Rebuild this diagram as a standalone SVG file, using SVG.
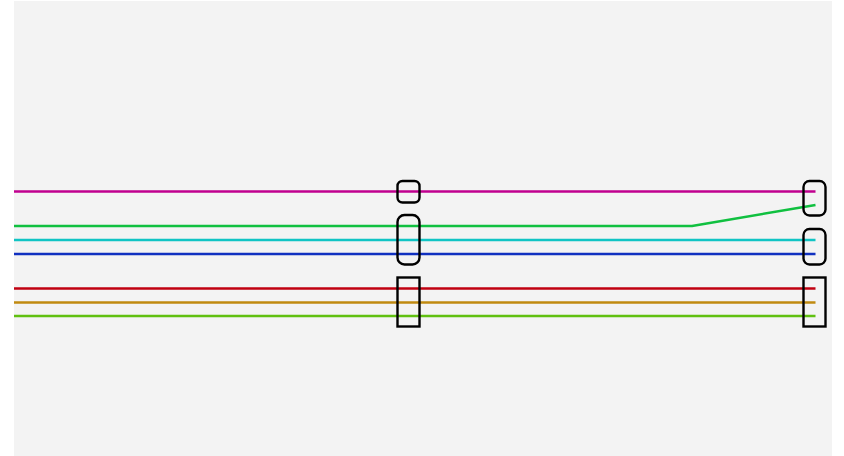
<svg xmlns="http://www.w3.org/2000/svg" width="844" height="456" viewBox="0 0 844 456">
<style>
.line{fill:none;stroke-width:2.5;stroke-linejoin:round}
.stn{fill:none;stroke:#000;stroke-width:2.4}
</style>
<rect x="0" y="0" width="844" height="456" fill="#ffffff"/>
<rect x="14" y="1" width="818" height="455" fill="#f3f3f3"/>
<g id="connectors">
<path class="line" stroke="#c0008f" d="M14 191.5H815.5"/>
<path class="line" stroke="#10c040" d="M14 226H692L815.5 205"/>
<path class="line" stroke="#10c4c4" d="M14 240H815.5"/>
<path class="line" stroke="#1030c0" d="M14 254H815.5"/>
<path class="line" stroke="#c00010" d="M14 288.5H815.5"/>
<path class="line" stroke="#c08a10" d="M14 302.5H815.5"/>
<path class="line" stroke="#60c010" d="M14 316H815.5"/>
</g>
<g id="station-a1"><rect class="stn" x="397.5" y="181" width="22" height="21.5" rx="5"/></g>
<g id="station-a2"><rect class="stn" x="397.5" y="215" width="22" height="49.5" rx="7"/></g>
<g id="station-a3"><rect class="stn" x="397.5" y="277.5" width="22" height="49"/></g>
<g id="station-b1"><rect class="stn" x="803.5" y="181" width="22" height="34.5" rx="6"/></g>
<g id="station-b2"><rect class="stn" x="803.5" y="229" width="22" height="35.5" rx="6"/></g>
<g id="station-b3"><rect class="stn" x="803.5" y="277.5" width="22" height="49"/></g>
</svg>
